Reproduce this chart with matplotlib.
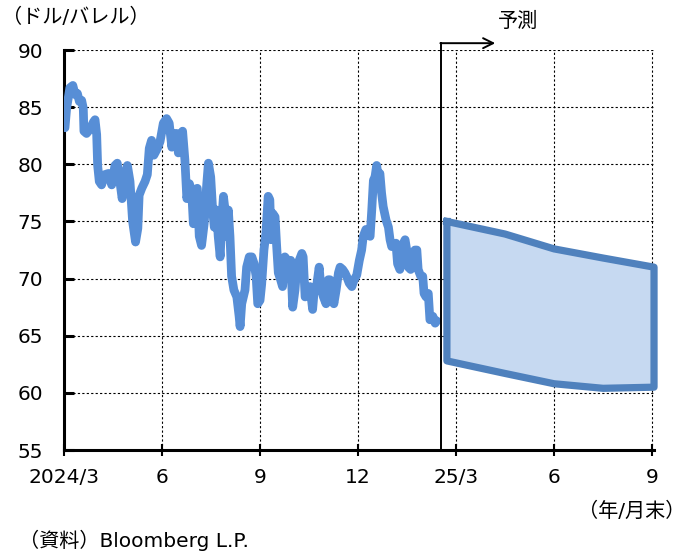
import matplotlib

matplotlib.use("Agg")
import matplotlib.pyplot as plt

plt.rcParams["font.family"] = ["DejaVu Sans", "Noto Sans CJK JP"]

# months elapsed since end of March 2024
price_month = [
    0.03, 0.08, 0.18, 0.27, 0.34, 0.41, 0.47, 0.54, 0.59, 0.61, 0.69, 0.80, 0.90, 0.95,
    1.00, 1.03, 1.08, 1.15, 1.25, 1.36, 1.46, 1.56, 1.63, 1.71, 1.78, 1.87, 1.94, 2.02,
    2.10, 2.19, 2.26, 2.30, 2.38, 2.48, 2.55, 2.61, 2.68, 2.75, 2.86, 2.94, 3.04, 3.14,
    3.22, 3.30, 3.37, 3.45, 3.50, 3.57, 3.63, 3.70, 3.76, 3.84, 3.91, 3.96, 4.01, 4.08,
    4.14, 4.21, 4.29, 4.37, 4.42, 4.49, 4.55, 4.60, 4.67, 4.72, 4.78, 4.83, 4.88, 4.93,
    4.98, 5.03, 5.08, 5.13, 5.20, 5.29, 5.36, 5.39, 5.44, 5.49, 5.54, 5.59, 5.67, 5.75,
    5.82, 5.88, 5.93, 6.00, 6.05, 6.12, 6.18, 6.25, 6.30, 6.34, 6.39, 6.46, 6.51, 6.56,
    6.63, 6.69, 6.76, 6.84, 6.90, 6.94, 7.00, 7.07, 7.12, 7.20, 7.28, 7.32, 7.38, 7.45,
    7.53, 7.61, 7.66, 7.73, 7.81, 7.86, 7.94, 8.02, 8.09, 8.14, 8.19, 8.26, 8.33, 8.40,
    8.45, 8.53, 8.60, 8.65, 8.73, 8.81, 8.88, 8.96, 9.04, 9.11, 9.16, 9.24, 9.31, 9.37,
    9.42, 9.47, 9.52, 9.57, 9.62, 9.67, 9.72, 9.77, 9.86, 9.93, 9.98, 10.03, 10.10, 10.16,
    10.21, 10.28, 10.34, 10.39, 10.44, 10.49, 10.54, 10.61, 10.67, 10.74, 10.80, 10.84,
    10.92, 10.98, 11.02, 11.08, 11.15, 11.20, 11.29, 11.36, 11.41,
]
price = [
    83.2, 84.9, 86.7, 86.9, 86.1, 86.2, 85.5, 85.6, 84.9, 82.9, 82.7, 83.1, 83.7, 83.9,
    82.6, 79.9, 78.5, 78.2, 79.1, 79.2, 78.2, 79.9, 80.1, 78.5, 77.0, 79.1, 79.9, 78.5,
    75.0, 73.2, 74.4, 77.3, 77.9, 78.5, 79.1, 81.4, 82.1, 80.8, 81.4, 82.0, 83.6, 84.0,
    83.6, 81.5, 82.7, 82.7, 81.0, 82.4, 82.9, 80.4, 77.0, 78.3, 77.5, 74.8, 77.8, 77.9,
    73.7, 72.9, 74.8, 78.3, 80.1, 78.9, 76.0, 74.5, 76.0, 73.7, 71.9, 75.1, 77.2, 76.0,
    73.7, 76.0, 73.7, 70.2, 69.0, 68.4, 66.7, 65.8, 67.8, 68.4, 69.0, 71.0, 71.9, 71.9,
    71.3, 70.2, 67.8, 68.1, 69.5, 72.5, 74.0, 77.2, 76.9, 73.4, 75.7, 75.4, 72.8, 70.5,
    69.9, 69.3, 71.9, 71.6, 71.0, 71.6, 67.5, 69.0, 70.8, 71.6, 72.2, 71.9, 68.4, 68.7,
    69.3, 67.3, 69.0, 69.3, 71.0, 69.3, 68.4, 67.8, 69.9, 69.9, 69.3, 67.8, 69.0, 70.5,
    71.0, 70.8, 70.5, 70.2, 69.6, 69.3, 69.9, 70.3, 71.6, 72.5, 73.7, 74.3, 74.0, 73.7,
    76.0, 78.6, 78.9, 79.9, 78.9, 79.2, 77.5, 76.3, 75.1, 74.5, 73.4, 72.8, 72.8, 73.1,
    71.3, 70.8, 71.9, 73.1, 73.4, 72.5, 71.0, 70.8, 71.6, 72.5, 72.5, 70.8,
    70.2, 70.2, 68.7, 68.4, 68.7, 66.4, 66.7, 66.1, 66.3,
]

# forecast range
fc_month = [11.72, 13.5, 15.0, 16.5, 18.06]
fc_high = [75.0, 73.9, 72.6, 71.8, 71.0]
fc_low = [62.8, 61.7, 60.8, 60.4, 60.5]

forecast_start = 11.54
tick_pos = [0, 3, 6, 9, 12, 15, 18]
tick_labels = ["2024/3", "6", "9", "12", "25/3", "6", "9"]
y_ticks = [55, 60, 65, 70, 75, 80, 85, 90]

fig = plt.figure(figsize=(6.86, 5.56), dpi=100)
ax = fig.add_axes([0.0933, 0.1906, 0.8601, 0.7194])

ax.set_xlim(0, 18.06)
ax.set_ylim(55, 90)

for yv in y_ticks[1:]:
    ax.axhline(yv, color="black", linestyle=(0, (2, 2)), linewidth=0.8, zorder=1)
for xv in tick_pos[1:]:
    ax.axvline(xv, color="black", linestyle=(0, (2, 2)), linewidth=0.8, zorder=1)

ax.plot(price_month, price, color="#578ED6", linewidth=6.3,
        solid_joinstyle="round", solid_capstyle="round", zorder=3)

band_x = fc_month + fc_month[::-1]
band_y = fc_high + fc_low[::-1]
ax.fill(band_x, band_y, facecolor="#C6D9F1", edgecolor="none", zorder=2)
ax.plot(band_x + [band_x[0]], band_y + [band_y[0]], color="#4F81BD", linewidth=5.2,
        solid_joinstyle="round", zorder=3, clip_on=False)

# forecast marker
ax.plot([forecast_start, forecast_start], [55, 90.6], color="black", linewidth=1.4,
        clip_on=False, zorder=4)
ax.annotate("", xy=(13.2, 90.6), xytext=(forecast_start - 0.02, 90.6),
            arrowprops=dict(arrowstyle="->", color="black", lw=1.4,
                            mutation_scale=18, shrinkA=0, shrinkB=0),
            annotation_clip=False)
ax.text(13.9, 92.5, "予測", ha="center", va="center", fontsize=14.5)

for side in ["top", "right"]:
    ax.spines[side].set_visible(False)
ax.spines["left"].set_linewidth(2.2)
ax.spines["bottom"].set_linewidth(2.2)

ax.set_xticks(tick_pos)
ax.set_xticklabels(tick_labels)
ax.set_yticks(y_ticks)
ax.tick_params(axis="x", direction="inout", length=8, width=1.5, pad=9, labelsize=14.5)
ax.tick_params(axis="y", direction="in", length=7, width=2.2, pad=15, labelsize=14.5)

fig.text(0.003, 0.968, "（ドル/バレル）", ha="left", va="center", fontsize=14.5)
fig.text(0.999, 0.081, "（年/月末）", ha="right", va="center", fontsize=14.5)
fig.text(0.028, 0.028, "（資料）Bloomberg L.P.", ha="left", va="center", fontsize=14.5)

fig.savefig("out.png", dpi=100)
